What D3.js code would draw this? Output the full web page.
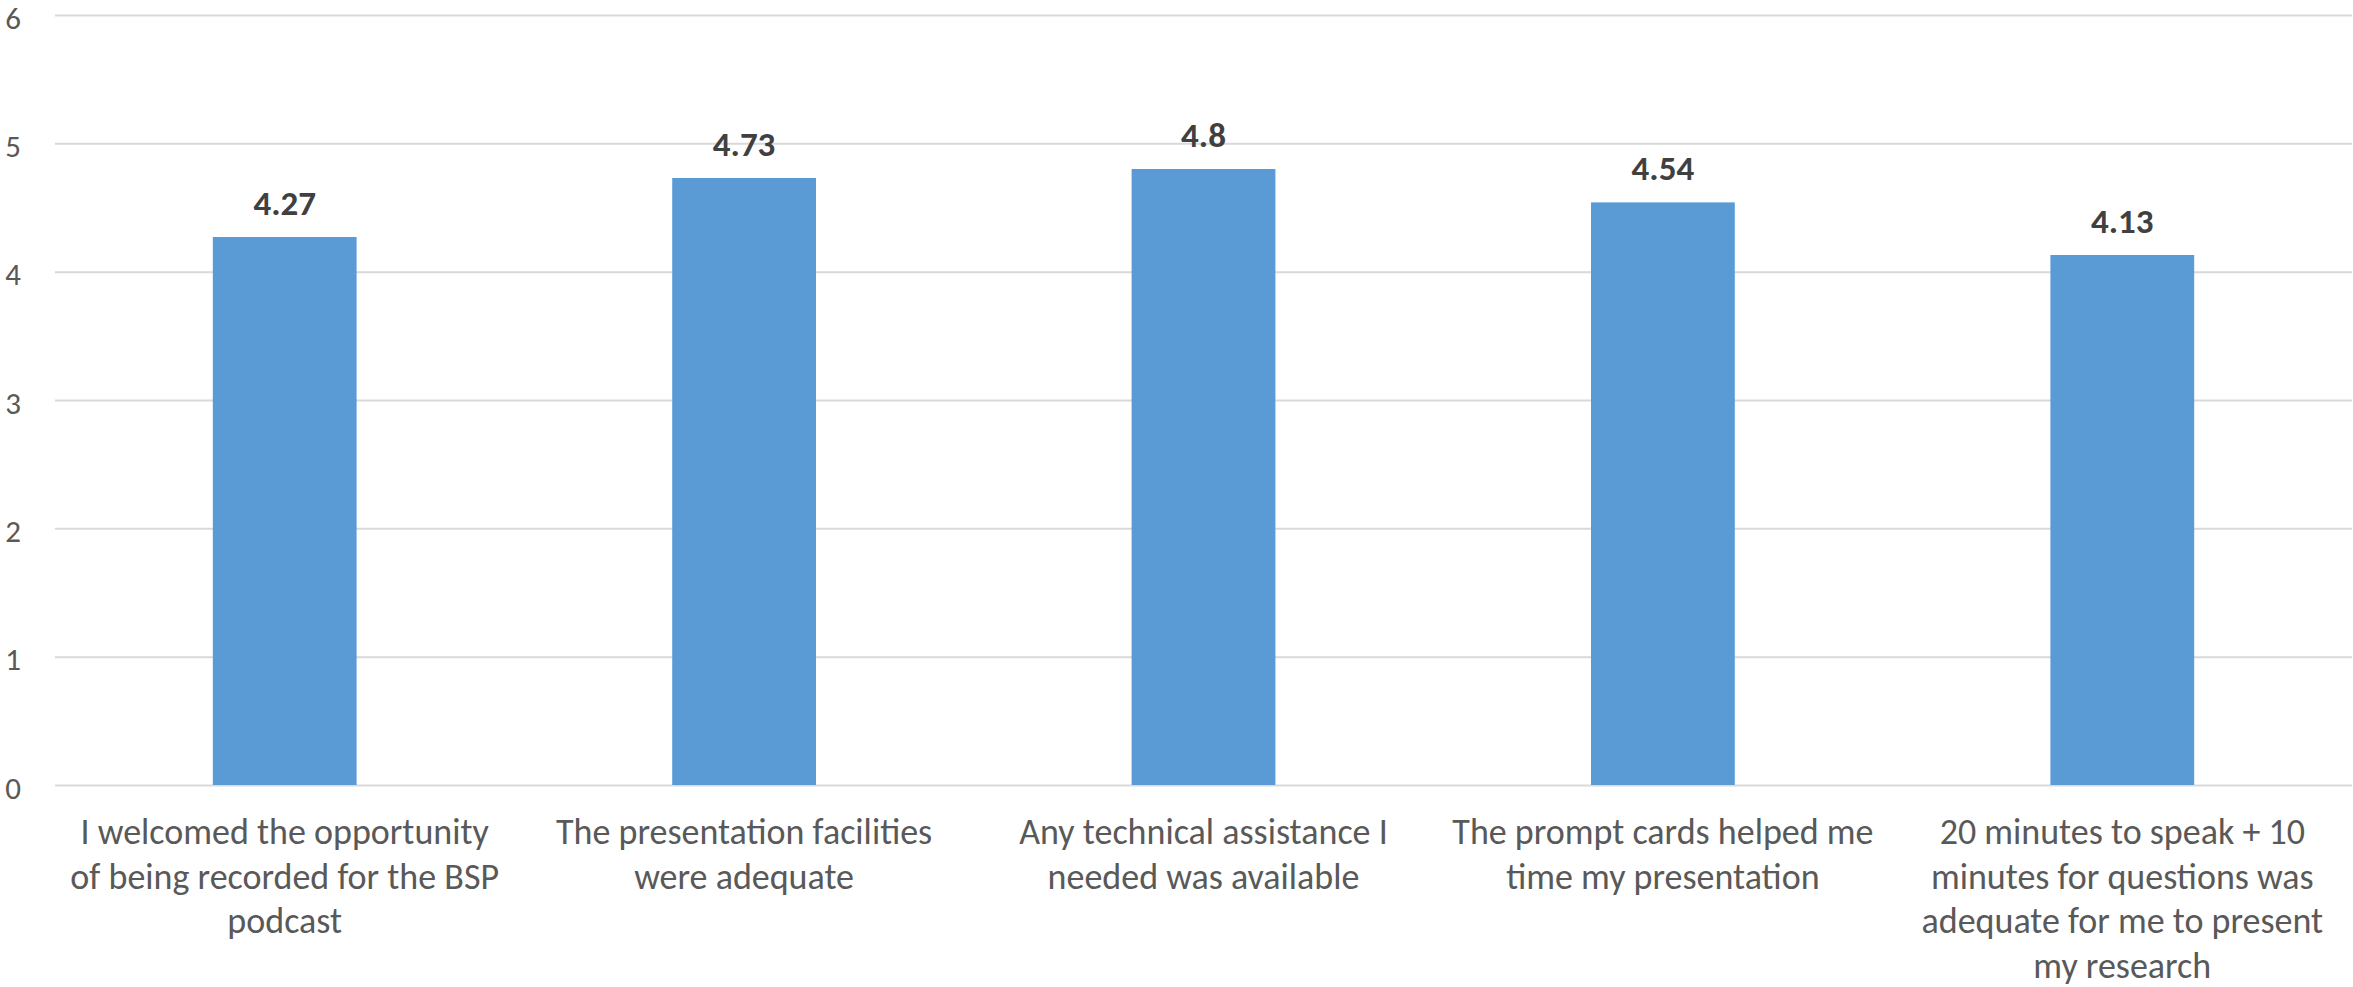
<!DOCTYPE html>
<html>
<head>
<meta charset="utf-8">
<script src="https://cdn.jsdelivr.net/npm/d3@7"></script>
<style>
  html, body { margin: 0; padding: 0; background: #fff; }
</style>
</head>
<body>
<svg id="chart" width="2353" height="987"></svg>
<script>
const categories = [
  "I welcomed the opportunity of being recorded for the BSP podcast",
  "The presentation facilities were adequate",
  "Any technical assistance I needed was available",
  "The prompt cards helped me time my presentation",
  "20 minutes to speak + 10 minutes for questions was adequate for me to present my research"
];
const values = [4.27, 4.73, 4.8, 4.54, 4.13];
const yTicks = [0, 1, 2, 3, 4, 5, 6];

const FONT = "Carlito, Calibri, Lato, sans-serif";
const svg = d3.select("#chart");
const margin = { left: 55, right: 1, top: 15, bottom: 202 };
const W = 2353, H = 987;

const x = d3.scaleBand().domain(categories).range([margin.left, W - margin.right]).padding(0);
const y = d3.scaleLinear().domain([0, 6]).range([H - margin.bottom, margin.top]);
const barW = x.bandwidth() * 0.313;

// gridlines + y tick labels
const yAxis = d3.axisLeft(y).tickValues(yTicks)
  .tickSize(-(W - margin.right - margin.left)).tickPadding(34).tickFormat(d3.format("d"));
const gy = svg.append("g").attr("transform", `translate(${margin.left},0)`).call(yAxis);
gy.select(".domain").remove();
gy.selectAll(".tick line").attr("stroke", "#d9d9d9").attr("stroke-width", 2);
gy.selectAll(".tick text").attr("fill", "#595959").attr("font-size", 31)
  .attr("font-family", FONT).attr("dy", "0.42em");

// bars
svg.append("g").selectAll("rect").data(values).join("rect")
  .attr("x", (d, i) => x(categories[i]) + x.bandwidth() / 2 - barW / 2)
  .attr("y", d => y(d))
  .attr("width", barW)
  .attr("height", d => y(0) - y(d))
  .attr("fill", "#5b9bd5");

// data labels
svg.append("g").selectAll("text").data(values).join("text")
  .attr("x", (d, i) => x(categories[i]) + x.bandwidth() / 2)
  .attr("y", d => y(d) - 22)
  .attr("text-anchor", "middle")
  .attr("font-size", 35)
  .attr("font-weight", "bold")
  .attr("font-family", FONT)
  .attr("fill", "#404040")
  .text(d => String(d));

// category labels with wrapping
const xAxis = d3.axisBottom(x).tickSize(0).tickPadding(0);
const gx = svg.append("g").attr("transform", `translate(0,${y(0)})`).call(xAxis);
gx.select(".domain").remove();
gx.selectAll(".tick text").remove();
const maxW = 440, lineH = 44.5, fontSize = 36;
gx.selectAll(".tick").each(function(d) {
  const t = d3.select(this).append("text")
    .attr("text-anchor", "middle")
    .attr("fill", "#595959")
    .attr("font-size", fontSize)
    .attr("font-family", FONT);
  const words = d.split(" ");
  let lines = [], line = [];
  const probe = t.append("tspan");
  for (const w of words) {
    line.push(w);
    probe.text(line.join(" "));
    if (probe.node().getComputedTextLength() > maxW && line.length > 1) {
      line.pop();
      lines.push(line.join(" "));
      line = [w];
    }
  }
  lines.push(line.join(" "));
  probe.remove();
  lines.forEach((l, i) => {
    t.append("tspan").attr("x", 0).attr("y", 59 + i * lineH).text(l);
  });
});
</script>
</body>
</html>
